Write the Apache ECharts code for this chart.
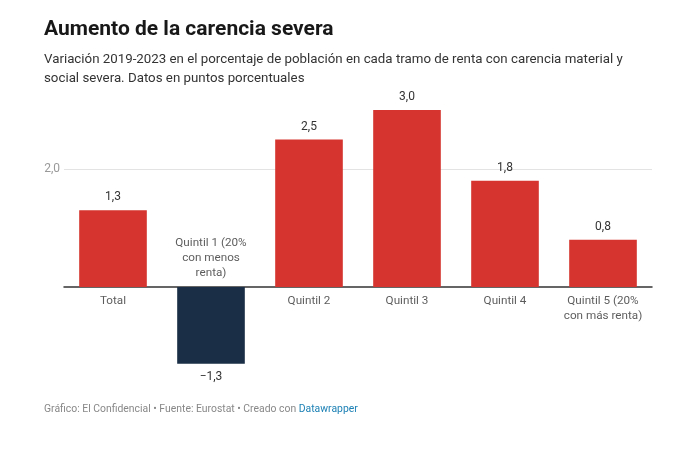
<!DOCTYPE html>
<html>
<head>
<meta charset="utf-8">
<script src="https://cdn.jsdelivr.net/npm/echarts@6/dist/echarts.min.js"></script>
<style>
  html, body { margin: 0; padding: 0; background: #fff; }
  #chart { width: 680px; height: 450px; }
</style>
</head>
<body>
<div id="chart"></div>
<script>
// datos
var categories = ['Total', 'Quintil 1 (20%\ncon menos\nrenta)', 'Quintil 2', 'Quintil 3', 'Quintil 4', 'Quintil 5 (20%\ncon más renta)'];
var values = [1.3, -1.3, 2.5, 3.0, 1.8, 0.8];
var yTicks = [2];

var RED = '#d5352e';
var NAVY = '#1a2e45';
var FONT = 'Roboto, "Noto Sans", sans-serif';

function fmt(v) {
    return v.toFixed(1).replace('.', ',').replace('-', '\u2212');
}

var chart = echarts.init(document.getElementById('chart'));

var barData = values.map(function (v) {
    return {
        value: v,
        itemStyle: { color: v < 0 ? NAVY : RED },
        label: { position: v < 0 ? 'bottom' : 'top' }
    };
});

// etiquetas de categoria pegadas al eje cero
var nameData = categories.map(function (c, i) {
    return {
        value: [i, 0],
        label: {
            formatter: c,
            position: values[i] < 0 ? 'top' : 'bottom',
            distance: values[i] < 0 ? 6 : 7
        }
    };
});

var option = {
    backgroundColor: '#fff',
    textStyle: { fontFamily: FONT },
    title: {
        text: 'Aumento de la carencia severa',
        subtext: 'Variación 2019-2023 en el porcentaje de población en cada tramo de renta con carencia material y\nsocial severa. Datos en puntos porcentuales',
        left: 44,
        top: 19,
        padding: 0,
        itemGap: 10,
        textStyle: { fontFamily: FONT, fontSize: 21, fontWeight: 'bold', color: '#181818' },
        subtextStyle: { fontFamily: FONT, fontSize: 13.3, color: '#333', lineHeight: 19 }
    },
    grid: { left: 64, right: 28, top: 110, bottom: 450 - 375.5, containLabel: false },
    xAxis: {
        type: 'category',
        data: categories,
        axisLine: { show: true, onZero: true, lineStyle: { color: '#333', width: 1.5 } },
        axisTick: { show: false },
        axisLabel: { show: false },
        splitLine: { show: false }
    },
    yAxis: {
        type: 'value',
        min: -1.5,
        max: 3,
        axisLine: { show: false },
        axisTick: { show: false },
        splitLine: { show: false },
        axisLabel: {
            customValues: yTicks,
            formatter: function (v) { return fmt(v); },
            color: '#999',
            fontSize: 12,
            fontFamily: FONT,
            margin: 4
        }
    },
    series: [
        {
            type: 'bar',
            data: barData,
            barWidth: '69%',
            z: 3,
            label: {
                show: true,
                formatter: function (p) { return fmt(p.value); },
                fontSize: 12,
                color: '#333',
                fontFamily: FONT,
                distance: 7
            },
            markLine: {
                silent: true,
                symbol: 'none',
                z: 1,
                label: { show: false },
                lineStyle: { color: '#e3e3e3', width: 1, type: 'solid' },
                data: yTicks.map(function (t) { return { yAxis: t }; })
            }
        },
        {
            type: 'scatter',
            data: nameData,
            symbolSize: 0,
            silent: true,
            z: 4,
            label: {
                show: true,
                fontSize: 11.7,
                lineHeight: 15,
                color: '#333',
                fontFamily: FONT,
                align: 'center'
            }
        }
    ],
    graphic: [
        {
            type: 'text',
            left: 44,
            top: 404,
            style: {
                text: '{g|Gráfico: El Confidencial • Fuente: Eurostat • Creado con }{b|Datawrapper}',
                rich: {
                    g: { fontSize: 10.4, fill: '#888', fontFamily: FONT },
                    b: { fontSize: 10.4, fill: '#1d81b5', fontFamily: FONT }
                }
            }
        }
    ]
};

chart.setOption(option);
</script>
</body>
</html>
